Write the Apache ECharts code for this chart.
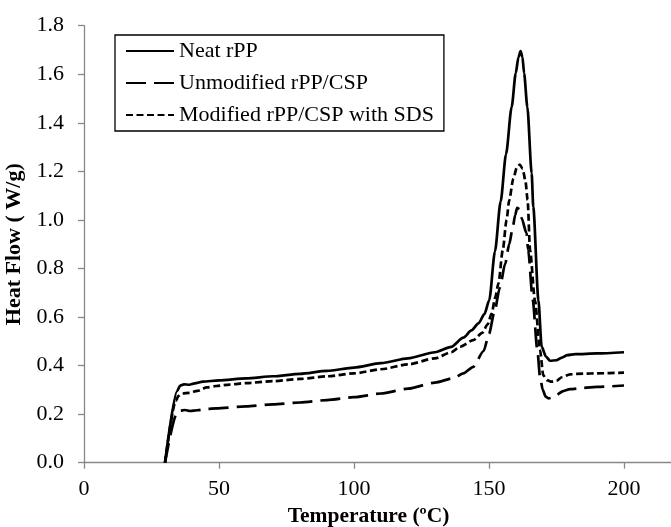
<!DOCTYPE html>
<html>
<head>
<meta charset="utf-8">
<script src="https://cdn.jsdelivr.net/npm/echarts@6/dist/echarts.min.js"></script>
<style>
html,body{margin:0;padding:0;background:#fff;}
#chart{width:671px;height:527px;}
</style>
</head>
<body>
<div id="chart"></div>
<script>
const seriesNames = ['Neat rPP', 'Unmodified rPP/CSP', 'Modified rPP/CSP with SDS'];

const neatT = [30, 34.5, 35.6, 37, 39, 41, 44, 50, 60, 70, 80, 90, 100, 110, 120, 130, 136, 140.5, 143.5, 146.1, 148.3, 150.1, 152.2, 154.3, 156.3, 158.4, 159.9, 160.9, 161.7, 162.4, 163, 164.2, 165.8, 166.4, 168.3, 169.5, 171.1, 172.6, 175, 177, 179, 182, 190, 200];
const neatV = [0, 0.295, 0.318, 0.323, 0.321, 0.327, 0.334, 0.339, 0.347, 0.356, 0.366, 0.378, 0.392, 0.41, 0.43, 0.455, 0.477, 0.515, 0.545, 0.574, 0.612, 0.67, 0.87, 1.075, 1.27, 1.466, 1.604, 1.67, 1.695, 1.67, 1.604, 1.466, 1.192, 1.054, 0.67, 0.478, 0.437, 0.42, 0.422, 0.433, 0.443, 0.447, 0.45, 0.455];

const unmodT = [30, 34.3, 35.5, 37.4, 39.3, 42, 45.4, 49, 60, 70, 80, 90, 100, 110, 120, 130, 136.8, 140.5, 144.2, 148, 150, 152, 154, 156, 157.5, 158.8, 159.7, 160.4, 161.2, 162, 163.9, 164.5, 166.2, 167.9, 168.9, 169.9, 171, 172, 173.5, 175, 177.5, 180, 185, 190, 200];
const unmodV = [0, 0.2, 0.214, 0.217, 0.213, 0.216, 0.221, 0.224, 0.232, 0.24, 0.248, 0.258, 0.27, 0.285, 0.305, 0.33, 0.348, 0.368, 0.395, 0.46, 0.53, 0.62, 0.72, 0.82, 0.9, 0.97, 1.02, 1.05, 1.045, 1.01, 0.945, 0.876, 0.67, 0.464, 0.354, 0.3, 0.272, 0.265, 0.268, 0.28, 0.295, 0.303, 0.308, 0.312, 0.318];

const modT = [30, 34, 35, 36.5, 39, 42, 45.5, 49, 54, 60, 70, 80, 90, 100, 110, 120, 130, 136, 139.3, 144.2, 147.5, 149.5, 151, 152.3, 153.5, 155.1, 156.5, 157.5, 159, 160.3, 161.4, 162.5, 163.5, 164.3, 165.2, 167, 168.9, 170.1, 171.5, 173.2, 175, 177, 180, 185, 190, 200];
const modV = [0, 0.255, 0.275, 0.285, 0.288, 0.296, 0.31, 0.316, 0.322, 0.328, 0.336, 0.345, 0.356, 0.368, 0.385, 0.405, 0.43, 0.455, 0.478, 0.505, 0.535, 0.57, 0.615, 0.68, 0.739, 0.876, 1.0, 1.082, 1.17, 1.215, 1.228, 1.21, 1.16, 1.082, 0.876, 0.67, 0.464, 0.36, 0.34, 0.334, 0.338, 0.352, 0.364, 0.367, 0.368, 0.371];

const xTicks = [0, 50, 100, 150, 200];
const yTicks = [0.0, 0.2, 0.4, 0.6, 0.8, 1.0, 1.2, 1.4, 1.6, 1.8];

function pairs(t, v) { return t.map((x, i) => [x, v[i]]); }

const FONT = '"Liberation Serif", "Times New Roman", serif';
const chart = echarts.init(document.getElementById('chart'), null, {renderer: 'canvas'});

const lineBase = {type: 'line', showSymbol: false, symbol: 'none', smooth: 0.25, smoothMonotone: 'x', animation: false};

chart.setOption({
  backgroundColor: '#fff',
  animation: false,
  grid: {left: 84, top: 25.7, width: 675, height: 437, outerBoundsMode: 'none', containLabel: false},
  legend: {
    orient: 'vertical',
    left: 115, top: 35,
    data: seriesNames,
    itemWidth: 48, itemHeight: 14, itemGap: 10,
    padding: [5, 10, 5, 10],
    borderColor: '#000', borderWidth: 1.3,
    itemStyle: {opacity: 0},
    textStyle: {fontFamily: FONT, fontSize: 22, color: '#000'}
  },
  xAxis: {
    type: 'value', min: 0, max: 250, interval: 50,
    name: 'Temperature (ºC)',
    nameLocation: 'middle', nameGap: 40,
    nameTextStyle: {fontFamily: FONT, fontSize: 21.5, fontWeight: 'bold', color: '#000', padding: [0, 106, 0, 0]},
    axisLine: {lineStyle: {color: '#888', width: 1.3}},
    axisTick: {show: true, length: 6, lineStyle: {color: '#888', width: 1.3}},
    axisLabel: {fontFamily: FONT, fontSize: 22, color: '#000', margin: 16, showMaxLabel: false,
      formatter: v => (xTicks.indexOf(v) >= 0 ? String(v) : '')},
    splitLine: {show: false}
  },
  yAxis: {
    type: 'value', min: 0, max: 1.8, interval: 0.2,
    name: 'Heat Flow ( W/g)',
    nameLocation: 'middle', nameGap: 56, nameRotate: 90,
    nameTextStyle: {fontFamily: FONT, fontSize: 22, fontWeight: 'bold', color: '#000'},
    axisLine: {show: true, lineStyle: {color: '#888', width: 1.3}},
    axisTick: {show: true, length: 6, lineStyle: {color: '#888', width: 1.3}},
    axisLabel: {fontFamily: FONT, fontSize: 22, color: '#000', margin: 20,
      formatter: v => { const t = yTicks.find(y => Math.abs(y - v) < 1e-6); return t === undefined ? '' : t.toFixed(1); }},
    splitLine: {show: false}
  },
  series: [
    Object.assign({}, lineBase, {name: seriesNames[0], data: pairs(neatT, neatV), z: 3,
      lineStyle: {color: '#000', width: 2.7, type: 'solid'}, itemStyle: {color: '#000'}}),
    Object.assign({}, lineBase, {name: seriesNames[1], data: pairs(unmodT, unmodV), z: 2,
      lineStyle: {color: '#000', width: 2.7, type: [20, 8]}, itemStyle: {color: '#000'}}),
    Object.assign({}, lineBase, {name: seriesNames[2], data: pairs(modT, modV), z: 2,
      lineStyle: {color: '#000', width: 2.7, type: [7, 3.5]}, itemStyle: {color: '#000'}})
  ]
});
</script>
</body>
</html>
